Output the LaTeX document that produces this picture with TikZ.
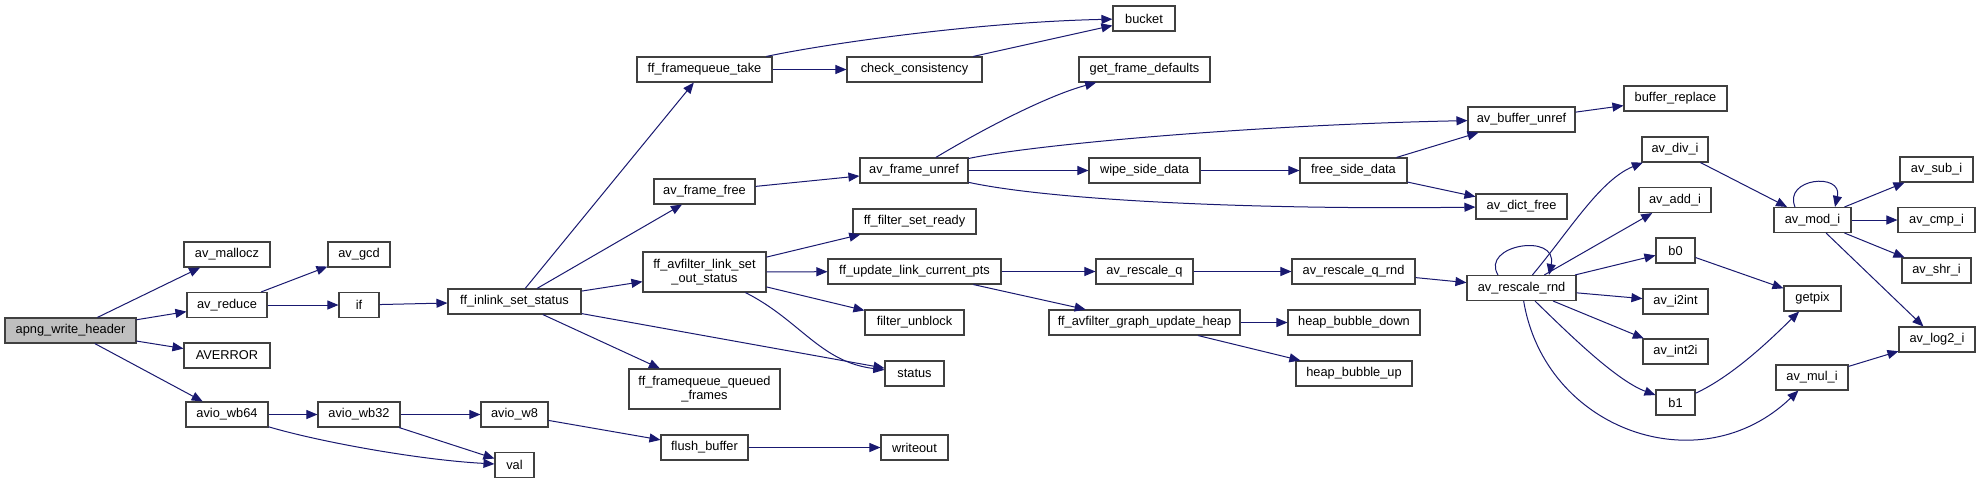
\documentclass[tikz,border=0pt]{standalone}
\usepackage{fontspec}
\setmainfont{Liberation Sans}
\usetikzlibrary{arrows.meta}
\definecolor{edgeblue}{HTML}{191970}
\definecolor{nodeline}{HTML}{404040}
\definecolor{rootfill}{HTML}{BFBFBF}
\tikzset{
 fn/.style={draw=nodeline, fill=white, line width=0.55pt, inner sep=0pt, minimum height=12.5pt,
   font=\fontsize{6.4}{7.2}\selectfont, text=black, align=center},
 bw/.style={minimum width=#1*0.5pt},
 call/.style={draw=edgeblue, line width=0.5pt, -{Triangle[length=5.5pt,width=4.5pt]}}
}
\begin{document}
\begin{tikzpicture}[x=0.5pt,y=-0.5pt]
\useasboundingbox[fill=white] (0,0) rectangle (1980,484);
% column 0
\node[fn,bw=131,fill=rootfill] (apng) at (70.5,330.5) {apng\_write\_header};
% column 1
\node[fn,bw=86] (mallocz) at (227,254.5) {av\_mallocz};
\node[fn,bw=80] (reduce) at (227,305) {av\_reduce};
\node[fn,bw=86] (averror) at (227,355.5) {AVERROR};
\node[fn,bw=82] (wb64) at (227,414.5) {avio\_wb64};
% column 2
\node[fn,bw=62] (gcd) at (359,254.5) {av\_gcd};
\node[fn,bw=40] (if) at (359,305) {if};
\node[fn,bw=82] (wb32) at (359,414.5) {avio\_wb32};
% column 3
\node[fn,bw=133] (inlink) at (514.5,301.5) {ff\_inlink\_set\_status};
\node[fn,bw=67] (w8) at (514.5,414.5) {avio\_w8};
\node[fn,bw=39] (val) at (514.5,465) {val};
% column 4
\node[fn,bw=135] (fqtake) at (704.5,69.5) {ff\_framequeue\_take};
\node[fn,bw=101] (framefree) at (704.5,191.5) {av\_frame\_free};
\node[fn,bw=123,minimum height=20pt] (lso) at (704.5,272) {ff\_avfilter\_link\_set\\\_out\_status};
\node[fn,bw=151,minimum height=20pt] (fqq) at (704.5,389) {ff\_framequeue\_queued\\\_frames};
\node[fn,bw=87] (flush) at (704.5,447.5) {flush\_buffer};
% column 5
\node[fn,bw=135] (check) at (914.5,69.5) {check\_consistency};
\node[fn,bw=108] (unref) at (914,170.5) {av\_frame\_unref};
\node[fn,bw=123] (ready) at (914.5,221.5) {ff\_filter\_set\_ready};
\node[fn,bw=173] (upd) at (914.5,271.5) {ff\_update\_link\_current\_pts};
\node[fn,bw=99] (unblock) at (914.5,322.5) {filter\_unblock};
\node[fn,bw=59] (status) at (914.5,373.5) {status};
\node[fn,bw=67] (writeout) at (914.5,447.5) {writeout};
% column 6
\node[fn,bw=62] (bucket) at (1144,18.5) {bucket};
\node[fn,bw=131] (gfd) at (1144.5,69.5) {get\_frame\_defaults};
\node[fn,bw=111] (wipe) at (1144.5,170.5) {wipe\_side\_data};
\node[fn,bw=97] (rq) at (1144.5,271.5) {av\_rescale\_q};
\node[fn,bw=191] (heap) at (1144.5,322.5) {ff\_avfilter\_graph\_update\_heap};
% column 7
\node[fn,bw=107] (fsd) at (1353.5,170.5) {free\_side\_data};
\node[fn,bw=123] (rqr) at (1353.5,271.5) {av\_rescale\_q\_rnd};
\node[fn,bw=132] (hdown) at (1354,322.5) {heap\_bubble\_down};
\node[fn,bw=116] (hup) at (1354,373.5) {heap\_bubble\_up};
% column 8
\node[fn,bw=107] (bufunref) at (1521.5,119.5) {av\_buffer\_unref};
\node[fn,bw=91] (dictfree) at (1521.5,206.5) {av\_dict\_free};
\node[fn,bw=109] (rnd) at (1521.5,288) {av\_rescale\_rnd};
% column 9
\node[fn,bw=103] (bufrep) at (1675.5,98.5) {buffer\_replace};
\node[fn,bw=66] (divi) at (1675,149.5) {av\_div\_i};
\node[fn,bw=72] (addi) at (1675,200) {av\_add\_i};
\node[fn,bw=39] (bzero) at (1675.5,250.5) {b0};
\node[fn,bw=65] (i2int) at (1675.5,301.5) {av\_i2int};
\node[fn,bw=65] (int2i) at (1675.5,351.5) {av\_int2i};
\node[fn,bw=39] (bone) at (1675.5,402.5) {b1};
% column 10
\node[fn,bw=77] (modi) at (1812.5,220) {av\_mod\_i};
\node[fn,bw=57] (getpix) at (1812.5,298.5) {getpix};
\node[fn,bw=72] (muli) at (1812,377.5) {av\_mul\_i};
% column 11
\node[fn,bw=73] (subi) at (1936.5,169.5) {av\_sub\_i};
\node[fn,bw=77] (cmpi) at (1936.5,220) {av\_cmp\_i};
\node[fn,bw=69] (shri) at (1936.5,270.5) {av\_shr\_i};
\node[fn,bw=76] (log2i) at (1937,339.5) {av\_log2\_i};

% edges
\draw[call] (apng) -- (mallocz);
\draw[call] (apng) -- (reduce);
\draw[call] (apng) -- (averror);
\draw[call] (apng) -- (wb64);
\draw[call] (reduce) -- (gcd);
\draw[call] (reduce) -- (if);
\draw[call] (if) -- (inlink);
\draw[call] (wb64) -- (wb32);
\draw[call] (wb64) .. controls (320,442) and (420,460) .. (val);
\draw[call] (wb32) -- (w8);
\draw[call] (wb32) -- (val);
\draw[call] (w8) -- (flush);
\draw[call] (flush) -- (writeout);
\draw[call] (inlink) -- (fqtake);
\draw[call] (inlink) -- (framefree);
\draw[call] (inlink) -- (lso);
\draw[call] (inlink) -- (status);
\draw[call] (inlink) -- (fqq);
\draw[call] (fqtake) .. controls (830,43) and (980,22) .. (bucket);
\draw[call] (fqtake) -- (check);
\draw[call] (check) -- (bucket);
\draw[call] (framefree) -- (unref);
\draw[call] (unref) .. controls (990,125) and (1050,95) .. (gfd);
\draw[call] (unref) .. controls (1030,145) and (1250,125) .. (bufunref);
\draw[call] (unref) -- (wipe);
\draw[call] (unref) .. controls (1050,200) and (1250,210) .. (dictfree);
\draw[call] (wipe) -- (fsd);
\draw[call] (fsd) -- (bufunref);
\draw[call] (fsd) -- (dictfree);
\draw[call] (bufunref) -- (bufrep);
\draw[call] (lso) -- (ready);
\draw[call] (lso) -- (upd);
\draw[call] (lso) -- (unblock);
\draw[call] (lso) .. controls (800,320) and (820,362) .. (status);
\draw[call] (upd) -- (rq);
\draw[call] (upd) -- (heap);
\draw[call] (rq) -- (rqr);
\draw[call] (rqr) -- (rnd);
\draw[call] (heap) -- (hdown);
\draw[call] (heap) -- (hup);
\draw[call] ([xshift=-11.75pt]rnd.north) .. controls (1480,245) and (1558,232) .. ([xshift=13.75pt]rnd.north);
\draw[call] (rnd) .. controls (1570,230) and (1600,180) .. (divi);
\draw[call] (rnd) -- (addi);
\draw[call] (rnd) -- (bzero);
\draw[call] (rnd) -- (i2int);
\draw[call] (rnd) -- (int2i);
\draw[call] (rnd) .. controls (1565,330) and (1615,380) .. (bone);
\draw[call] (rnd) .. controls (1545,430) and (1700,485) .. (muli);
\draw[call] (bone) .. controls (1735,375) and (1775,335) .. (getpix);
\draw[call] (bzero) -- (getpix);
\draw[call] (divi) -- (modi);
\draw[call] ([xshift=-8.75pt]modi.north) .. controls (1783,178) and (1843,172) .. ([xshift=11.25pt]modi.north);
\draw[call] (modi) -- (subi);
\draw[call] (modi) -- (cmpi);
\draw[call] (modi) -- (shri);
\draw[call] (modi) -- (log2i);
\draw[call] (muli) -- (log2i);
\end{tikzpicture}
\end{document}
